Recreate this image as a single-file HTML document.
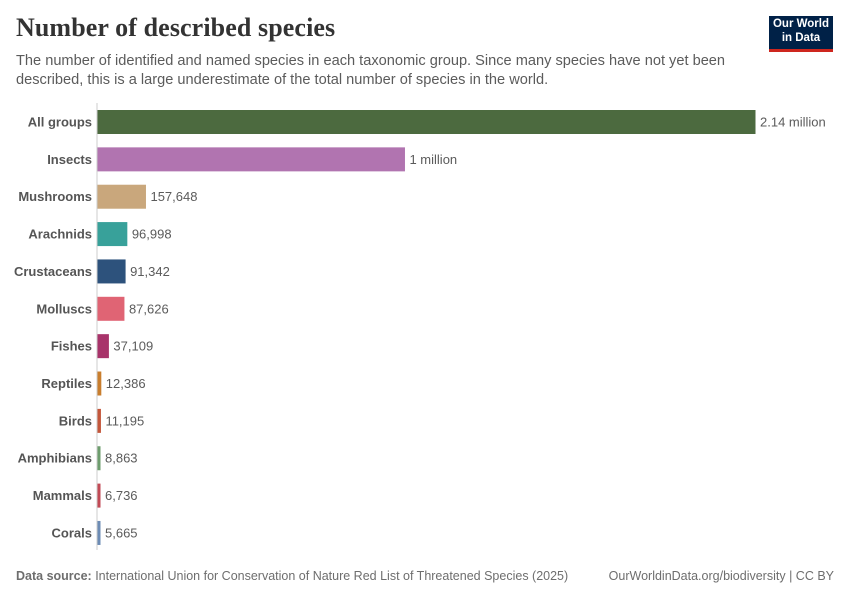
<!DOCTYPE html>
<html><head><meta charset="utf-8"><style>
body{margin:0;background:#fff;font-family:"Liberation Sans",sans-serif;}
#wrap{position:relative;width:850px;height:600px;overflow:hidden;}
h1{position:absolute;left:16px;top:13px;margin:0;font-family:"Liberation Serif",serif;font-size:26px;font-weight:bold;color:#333;letter-spacing:0.1px}
.sub{position:absolute;left:16px;top:52px;width:740px;font-size:14.6px;line-height:19px;color:#5b5b5b}
.logo{position:absolute;left:769px;top:16px;width:64px;height:36px;background:#002147;color:#fff;font-size:11.5px;font-weight:bold;line-height:14px;text-align:center;padding-top:1px;box-sizing:border-box;border-bottom:3px solid #ce261e}
.foot{position:absolute;top:569px;font-size:12.5px;color:#6e6e6e}
</style></head><body><div id="wrap">
<h1>Number of described species</h1>
<div class="sub">The number of identified and named species in each taxonomic group. Since many species have not yet been described, this is a large underestimate of the total number of species in the world.</div>
<div class="logo">Our World<br>in Data</div>
<svg id="plot" width="850" height="600" style="position:absolute;left:0;top:0"></svg>
<div class="foot" style="left:16px"><b>Data source:</b> International Union for Conservation of Nature Red List of Threatened Species (2025)</div>
<div class="foot" style="right:16px">OurWorldinData.org/biodiversity | CC BY</div>
</div>
<script>
const categories=["All groups","Insects","Mushrooms","Arachnids","Crustaceans","Molluscs","Fishes","Reptiles","Birds","Amphibians","Mammals","Corals"];
const values=[2140000,1000000,157648,96998,91342,87626,37109,12386,11195,8863,6736,5665];
const labels=["2.14 million","1 million","157,648","96,998","91,342","87,626","37,109","12,386","11,195","8,863","6,736","5,665"];
const colors=["#4c6a3f","#b174b0","#c9a77c","#38a19a","#2d527c","#e06474","#a8336a","#c97e2e","#c4573b","#6d9d6d","#c24a55","#6d8cb5"];
const NS="http://www.w3.org/2000/svg";
const svg=document.getElementById('plot');
const x0=97,xMax=755,maxV=2140000;
const xs=v=>Math.max(3,(v/maxV)*(xMax-x0));
const yc=i=>122+i*37.36;
const ax=document.createElementNS(NS,'line');
ax.setAttribute('x1',x0);ax.setAttribute('x2',x0);ax.setAttribute('y1',103);ax.setAttribute('y2',550);ax.setAttribute('stroke','#ccc');


svg.appendChild(ax);
categories.forEach((c,i)=>{
 const r=document.createElementNS(NS,'rect');
 const w=xs(values[i]);
 r.setAttribute('x',x0+0.5);r.setAttribute('y',yc(i)-12);r.setAttribute('width',w);r.setAttribute('height',24);r.setAttribute('fill',colors[i]);
 
 
 svg.appendChild(r);
 const t=document.createElementNS(NS,'text');
 t.setAttribute('x',92);t.setAttribute('y',yc(i)+4.5);t.setAttribute('text-anchor','end');t.setAttribute('font-size','13');t.setAttribute('font-weight','bold');t.setAttribute('fill','#555');
 t.textContent=c;
 
 
 svg.appendChild(t);
 const v=document.createElementNS(NS,'text');
 v.setAttribute('x',x0+w+5);v.setAttribute('y',yc(i)+4.5);v.setAttribute('font-size','13');v.setAttribute('fill','#5b5b5b');
 v.textContent=labels[i];
 
 
 svg.appendChild(v);
});
</script></body></html>
